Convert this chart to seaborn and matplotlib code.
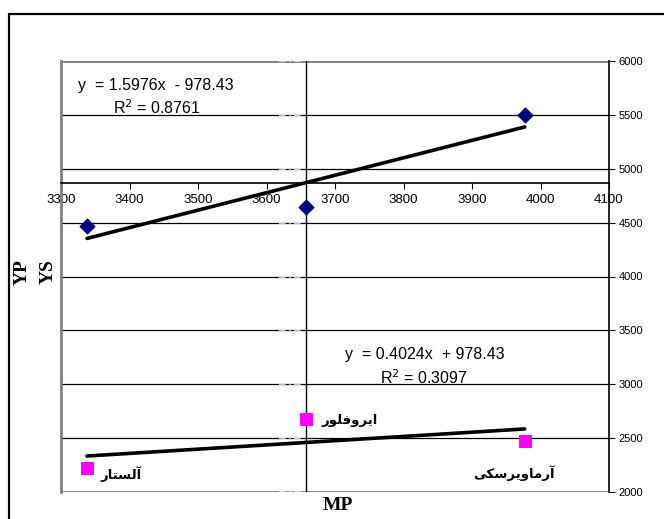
import numpy as np
import pandas as pd
import matplotlib
matplotlib.use("Agg")
import matplotlib.pyplot as plt
import seaborn as sns
from matplotlib.patches import Rectangle

# --------------------------- data ---------------------------
cultivars = ["آلستار", "ایروفلور", "آرماویرسکی"]
mp = [3338, 3658, 3977]
yp = [4465, 4648, 5500]
ys = [2224, 2680, 2475]
eq_yp = ["y  = 1.5976x  - 978.43", "R$^2$ = 0.8761"]
eq_ys = ["y  = 0.4024x  + 978.43", "R$^2$ = 0.3097"]
x_ticks = [3300, 3400, 3500, 3600, 3700, 3800, 3900, 4000, 4100]
y_ticks = [2000, 2500, 3000, 3500, 4000, 4500, 5000, 5500, 6000]


# matplotlib does no Arabic shaping, so pick presentation forms by hand
FORMS = {  # isolated, final, initial, medial
    "آ": ("\uFE81", "\uFE82", None, None),
    "ا": ("\uFE8D", "\uFE8E", None, None),
    "ر": ("\uFEAD", "\uFEAE", None, None),
    "و": ("\uFEED", "\uFEEE", None, None),
    "ل": ("\uFEDD", "\uFEDE", "\uFEDF", "\uFEE0"),
    "س": ("\uFEB1", "\uFEB2", "\uFEB3", "\uFEB4"),
    "ت": ("\uFE95", "\uFE96", "\uFE97", "\uFE98"),
    "ف": ("\uFED1", "\uFED2", "\uFED3", "\uFED4"),
    "م": ("\uFEE1", "\uFEE2", "\uFEE3", "\uFEE4"),
    "ی": ("\uFBFC", "\uFBFD", "\uFBFE", "\uFBFF"),
    "ک": ("\uFB8E", "\uFB8F", "\uFB90", "\uFB91"),
}


def shape(word):
    out = []
    for i, ch in enumerate(word):
        f = FORMS[ch]
        prev_joins = i > 0 and FORMS[word[i - 1]][2] is not None
        next_joins = i < len(word) - 1 and f[2] is not None
        if prev_joins and next_joins:
            out.append(f[3])
        elif prev_joins:
            out.append(f[1])
        elif next_joins:
            out.append(f[2])
        else:
            out.append(f[0])
    return "".join(reversed(out))


df = pd.DataFrame({"MP": mp, "YP": yp, "YS": ys, "name": cultivars})

sns.set_style("white")
plt.rcParams["font.family"] = ["Liberation Sans", "DejaVu Sans"]
plt.rcParams["text.color"] = "black"
plt.rcParams["xtick.color"] = "black"
plt.rcParams["ytick.color"] = "black"

fig = plt.figure(figsize=(6.64, 5.19), dpi=100)
ax = fig.add_axes([61 / 664, 1 - 492 / 519, 548 / 664, 431 / 519])

# outer chart border (runs off the right and bottom edges)
fig.patches.append(Rectangle((9 / 664, -0.1), 1.2, 1 - 14 / 519 + 0.1, transform=fig.transFigure,
                             fill=False, edgecolor="black", lw=1.6))

# trendlines + points
sns.regplot(data=df, x="MP", y="YP", ci=None, scatter=False, ax=ax,
            line_kws=dict(color="black", lw=2.6, zorder=3))
sns.regplot(data=df, x="MP", y="YS", ci=None, scatter=False, ax=ax,
            line_kws=dict(color="black", lw=2.6, zorder=3))
sns.scatterplot(data=df, x="MP", y="YP", marker="D", s=60, color="#000080",
                edgecolor="#000080", ax=ax, zorder=4)
sns.scatterplot(data=df, x="MP", y="YS", marker="s", s=75, color="#FF00FF",
                edgecolor="#FF00FF", ax=ax, zorder=4)

ax.set_xlim(3300, 4100)
ax.set_ylim(2000, 6000)
ax.set_xlabel("")
ax.set_ylabel("")

# gridlines and frame
for v in y_ticks:
    ax.axhline(v, color="black", lw=0.9, zorder=1)
ax.axhline(2000, color="#808080", lw=2, zorder=1)
ax.axhline(6000, color="#808080", lw=2, zorder=1)
ax.hlines(y_ticks, 3618, 3652, colors="#e0e0e0", lw=1.2, linestyles=(0, (4, 2, 1, 2)), zorder=2)
x_cross = np.mean(mp)
ax.axvline(x_cross, color="black", lw=1, zorder=2)

ax.spines["top"].set_visible(False)
ax.spines["left"].set_color("#808080")
ax.spines["left"].set_linewidth(2)
ax.spines["right"].set_color("black")
ax.spines["right"].set_linewidth(1.2)
ax.spines["bottom"].set_position(("data", np.mean(yp)))
ax.spines["bottom"].set_color("black")
ax.spines["bottom"].set_linewidth(1.2)

ax.set_xticks(x_ticks)
ax.set_xticklabels([str(t) for t in x_ticks])
ax.tick_params(axis="x", direction="out", length=4, width=0.8, color="black",
               labelsize=9.5, pad=4, bottom=True)
ax.yaxis.tick_right()
ax.set_yticks(y_ticks)
ax.set_yticklabels([str(t) for t in y_ticks])
ax.tick_params(axis="y", direction="out", length=4, width=0.8, color="black",
               labelsize=8, pad=3, right=True, left=False)

# regression equations
ax.text(3325, 5768, eq_yp[0], fontsize=11.5, va="center")
ax.text(3376, 5564, eq_yp[1], fontsize=11.5, va="center")
ax.text(3714, 3273, eq_ys[0], fontsize=11.5, va="center")
ax.text(3766, 3059, eq_ys[1], fontsize=11.5, va="center")

# cultivar labels next to the YS points
label_pos = [(3358, 2170, "left"), (3680, 2665, "left"), (4020, 2180, "right")]
for name, (lx, ly, ha) in zip(cultivars, label_pos):
    ax.text(lx, ly, shape(name), fontsize=9.5, fontweight="bold", ha=ha, va="center",
            family=["DejaVu Sans"])

# axis titles
fig.text(22 / 664, 1 - 272 / 519, "YP", rotation=90, fontsize=14, fontweight="bold",
         family="Liberation Serif", ha="center", va="center")
fig.text(48 / 664, 1 - 272 / 519, "YS", rotation=90, fontsize=14, fontweight="bold",
         family="Liberation Serif", ha="center", va="center")
fig.text(338 / 664, 1 - 506 / 519, "MP", fontsize=14, fontweight="bold",
         family="Liberation Serif", ha="center", va="center")

fig.savefig("out.png", dpi=100)
